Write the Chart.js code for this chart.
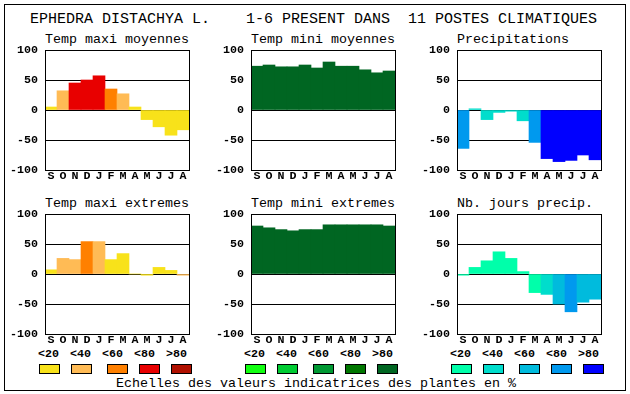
<!DOCTYPE html>
<html><head><meta charset="utf-8">
<script src="https://cdn.jsdelivr.net/npm/chart.js@4"></script>
<style>
html,body{margin:0;padding:0;background:#fff;width:630px;height:394px;overflow:hidden;position:relative;}
#frame{position:absolute;left:4px;top:4px;width:622px;height:387px;border:1px solid #000;box-sizing:border-box;}
.t{position:absolute;font-family:"Liberation Mono",monospace;white-space:pre;line-height:1;color:#000;}
.main{font-size:15px;}
.sub{font-size:13.33px;}
.lg{font-size:11.67px;font-weight:bold;}
.sw{position:absolute;width:21px;height:10px;border:1px solid #000;box-sizing:border-box;}
.cw{position:absolute;width:194px;height:152px;}
.vl{position:absolute;width:1px;background:#000;pointer-events:none;}
</style></head>
<body>
<div id="frame"></div>
<div class="t main" style="left:30px;top:11.5px;">EPHEDRA DISTACHYA L.    1-6 PRESENT DANS  11 POSTES CLIMATIQUES</div>
<div id="titles"></div>
<div id="legend"></div>
<div class="t sub" style="left:116px;top:377px;">Echelles des valeurs indicatrices des plantes en %</div>
<div class="cw" style="left:5px;top:40px;"><canvas id="c1" width="194" height="152"></canvas></div>
<div class="cw" style="left:211px;top:40px;"><canvas id="c2" width="194" height="152"></canvas></div>
<div class="cw" style="left:417px;top:40px;"><canvas id="c3" width="194" height="152"></canvas></div>
<div class="cw" style="left:5px;top:204px;"><canvas id="c4" width="194" height="152"></canvas></div>
<div class="cw" style="left:211px;top:204px;"><canvas id="c5" width="194" height="152"></canvas></div>
<div class="cw" style="left:417px;top:204px;"><canvas id="c6" width="194" height="152"></canvas></div>
<div id="frames"></div>
<script>
// ---- data ----
const months = ['S','O','N','D','J','F','M','A','M','J','J','A'];
const yTicks = [-100, -50, 0, 50, 100];
const scaleLabels = ['<20','<40','<60','<80','>80'];
const panelTitles = ['Temp maxi moyennes','Temp mini moyennes','Precipitations',
                     'Temp maxi extremes','Temp mini extremes','Nb. jours precip.'];

const tmaxMoy     = [5, 32, 45, 50, 57, 35, 27, 5, -16, -28, -42, -33];
const tmaxMoyCls  = [0, 1, 3, 3, 3, 2, 1, 0, 0, 0, 0, 0];
const tminMoy     = [73, 75, 72, 72, 75, 70, 80, 73, 73, 67, 62, 65];
const tminMoyCls  = [4, 4, 4, 4, 4, 4, 4, 4, 4, 4, 4, 4];
const precip      = [-64, 2, -16, -4, -2, -18, -54, -81, -86, -84, -75, -83];
const precipCls   = [3, 1, 1, 1, 1, 1, 3, 4, 4, 4, 4, 4];
const tmaxExt     = [7, 26, 24, 54, 54, 24, 34, 0, -2, 11, 6, -2];
const tmaxExtCls  = [0, 1, 1, 2, 1, 0, 0, 0, 0, 0, 0, 1];
const tminExt     = [80, 77, 74, 72, 74, 74, 82, 82, 82, 82, 82, 80];
const tminExtCls  = [4, 4, 4, 4, 4, 4, 4, 4, 4, 4, 4, 4];
const precDays    = [-2, 11, 22, 37, 26, 4, -31, -34, -50, -63, -47, -42];
const precDaysCls = [0, 0, 0, 0, 0, 0, 0, 1, 2, 3, 2, 2];

// ---- styles ----
const warm  = ['#F8E21A','#FFBB55','#FF8000','#E80000','#B01000'];
const green = ['#11FF11','#00CC33','#009933','#007700','#006622'];
const blue  = ['#00FFAA','#00DDCC','#00BBDD','#0099EE','#0000FF'];
const tickFont = {family:'"Liberation Mono", monospace', size:11.67, weight:'bold'};

const framePlugin = {id:'plotframe', afterDraw(c){
  const a=c.chartArea, ctx=c.ctx; const h=a.bottom-a.top+1, w=a.right-a.left+1;
  ctx.save(); ctx.fillStyle='#000';
  ctx.fillRect(a.left, a.top, 1, h);
  ctx.fillRect(a.right, a.top, 1, h);
  ctx.fillRect(a.left, a.top, w, 1);
  ctx.fillRect(a.left, a.bottom, w, 1);
  ctx.restore();
}};

const charts = [];
function makeChart(id, values, cls, palette){
  const ch = new Chart(document.getElementById(id), {
    type:'bar',
    data:{labels:months, datasets:[{data:values, backgroundColor:cls.map(c=>palette[c]),
      borderWidth:0, barPercentage:1, categoryPercentage:1}]},
    options:{
      responsive:false, animation:false, devicePixelRatio:1,
      layout:{autoPadding:false, padding:{top:10,right:10,left:0,bottom:0}},
      plugins:{legend:{display:false}, tooltip:{enabled:false}, title:{display:false}},
      scales:{
        x:{grid:{display:false, drawTicks:false}, border:{display:false},
           ticks:{color:'#000', font:tickFont, padding:-1, maxRotation:0, autoSkip:false},
           afterFit:s=>{s.height=22; s.paddingLeft=0; s.paddingRight=0;}},
        y:{min:-100, max:100, z:1,
           grid:{color:'#000', lineWidth:1, drawTicks:false}, border:{display:false},
           ticks:{color:'#000', font:tickFont, padding:7},
           afterBuildTicks:s=>{s.ticks = yTicks.map(v=>({value:v}));},
           afterFit:s=>{s.width=40; s.paddingTop=0; s.paddingBottom=0;}}
      }
    },
    plugins:[framePlugin]
  });
  charts.push(ch);
  return ch;
}

makeChart('c1', tmaxMoy, tmaxMoyCls, warm);
makeChart('c2', tminMoy, tminMoyCls, green);
makeChart('c3', precip, precipCls, blue);
makeChart('c4', tmaxExt, tmaxExtCls, warm);
makeChart('c5', tminExt, tminExtCls, green);
makeChart('c6', precDays, precDaysCls, blue);

// side borders of each plot, taken from each chart's own chart area
const fEl = document.getElementById('frames');
charts.forEach(ch=>{
  const a = ch.chartArea, wrap = ch.canvas.parentNode;
  [a.left, a.right].forEach(x=>{
    const d = document.createElement('div'); d.className='vl';
    d.style.left = (wrap.offsetLeft + x)+'px';
    d.style.top = (wrap.offsetTop + a.top)+'px';
    d.style.height = (a.bottom - a.top + 1)+'px';
    fEl.appendChild(d);
  });
});

// titles and legend (HTML text)
const plotLefts = [45, 251, 457];
const tEl = document.getElementById('titles');
panelTitles.forEach((t,i)=>{
  const d=document.createElement('div'); d.className='t sub';
  d.style.left = plotLefts[i%3]+'px';
  d.style.top = (i<3 ? 33 : 197)+'px';
  d.textContent=t; tEl.appendChild(d);
});
const lEl = document.getElementById('legend');
const swOff = [-6, 26, 62, 94, 126];
[warm, green, blue].forEach((pal,g)=>{
  const L = plotLefts[g];
  scaleLabels.forEach((s,k)=>{
    const d=document.createElement('div'); d.className='t lg';
    d.style.left=(L-7+32*k)+'px'; d.style.top='349px'; d.textContent=s; lEl.appendChild(d);
    const b=document.createElement('div'); b.className='sw';
    b.style.left=(L+swOff[k])+'px'; b.style.top='364px'; b.style.background=pal[k]; lEl.appendChild(b);
  });
});
</script>
</body></html>
